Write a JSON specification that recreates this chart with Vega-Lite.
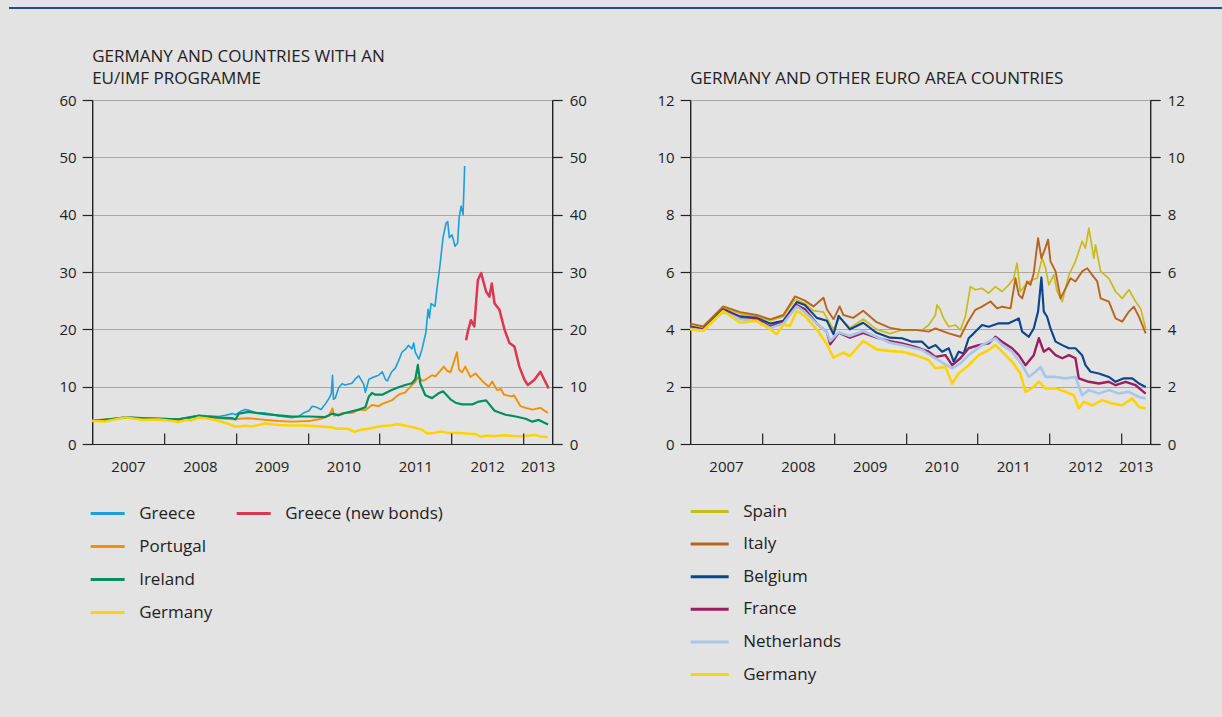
{
"$schema": "https://vega.github.io/schema/vega-lite/v6.json",
"background": "#e3e3e3",
"padding": {"left": 9, "top": 7, "right": 0, "bottom": 60},
"config": {
  "font": "Open Sans",
  "view": {"stroke": "#222222", "strokeWidth": 1},
  "axis": {"labelFont": "Open Sans", "labelFontSize": 15, "labelColor": "#222222", "domainColor": "#222222", "tickColor": "#222222", "gridColor": "#a8a8a8", "gridWidth": 1, "domainWidth": 1.2, "tickWidth": 1.2},
  "legend": {"symbolType": "stroke", "symbolSize": 1156, "symbolStrokeWidth": 3, "labelFontSize": 17, "labelFont": "Open Sans", "labelColor": "#222222", "labelOffset": 13, "rowPadding": 6, "padding": 0, "labelLimit": 400},
  "title": {"font": "Open Sans", "fontSize": 17, "fontWeight": "normal", "color": "#222222", "anchor": "start", "frame": "group", "lineHeight": 22, "offset": 5}
},
"datasets": {
"left": [
{"d":"2007-01-01","s":"Greece","v":4.2},{"d":"2007-03-08","s":"Greece","v":4.15},{"d":"2007-06-18","s":"Greece","v":4.75},{"d":"2007-09-12","s":"Greece","v":4.55},{"d":"2007-12-05","s":"Greece","v":4.5},{"d":"2008-02-12","s":"Greece","v":4.4},{"d":"2008-03-16","s":"Greece","v":4.35},{"d":"2008-06-26","s":"Greece","v":5.0},{"d":"2008-08-06","s":"Greece","v":4.9},{"d":"2008-10-06","s":"Greece","v":4.8},{"d":"2008-11-09","s":"Greece","v":5.0},{"d":"2008-12-13","s":"Greece","v":5.3},{"d":"2008-12-30","s":"Greece","v":5.1},{"d":"2009-01-25","s":"Greece","v":5.7},{"d":"2009-02-18","s":"Greece","v":6.0},{"d":"2009-03-07","s":"Greece","v":5.9},{"d":"2009-04-09","s":"Greece","v":5.5},{"d":"2009-05-30","s":"Greece","v":5.4},{"d":"2009-08-06","s":"Greece","v":4.9},{"d":"2009-10-13","s":"Greece","v":4.6},{"d":"2009-11-16","s":"Greece","v":4.8},{"d":"2009-12-10","s":"Greece","v":5.4},{"d":"2010-01-07","s":"Greece","v":5.8},{"d":"2010-01-24","s":"Greece","v":6.6},{"d":"2010-02-15","s":"Greece","v":6.4},{"d":"2010-03-10","s":"Greece","v":6.0},{"d":"2010-04-01","s":"Greece","v":7.0},{"d":"2010-04-20","s":"Greece","v":8.0},{"d":"2010-05-01","s":"Greece","v":8.8},{"d":"2010-05-07","s":"Greece","v":12.0},{"d":"2010-05-12","s":"Greece","v":7.8},{"d":"2010-05-21","s":"Greece","v":8.0},{"d":"2010-06-07","s":"Greece","v":9.8},{"d":"2010-06-25","s":"Greece","v":10.5},{"d":"2010-07-10","s":"Greece","v":10.3},{"d":"2010-08-14","s":"Greece","v":10.6},{"d":"2010-09-01","s":"Greece","v":11.4},{"d":"2010-09-18","s":"Greece","v":11.9},{"d":"2010-10-13","s":"Greece","v":10.4},{"d":"2010-10-21","s":"Greece","v":9.0},{"d":"2010-11-08","s":"Greece","v":11.3},{"d":"2010-12-03","s":"Greece","v":11.7},{"d":"2010-12-28","s":"Greece","v":12.0},{"d":"2011-01-15","s":"Greece","v":12.6},{"d":"2011-02-01","s":"Greece","v":11.2},{"d":"2011-02-10","s":"Greece","v":11.0},{"d":"2011-03-04","s":"Greece","v":12.6},{"d":"2011-03-22","s":"Greece","v":13.2},{"d":"2011-04-08","s":"Greece","v":14.5},{"d":"2011-04-25","s":"Greece","v":16.0},{"d":"2011-05-12","s":"Greece","v":16.5},{"d":"2011-05-28","s":"Greece","v":17.2},{"d":"2011-06-15","s":"Greece","v":16.6},{"d":"2011-06-24","s":"Greece","v":17.6},{"d":"2011-07-02","s":"Greece","v":16.0},{"d":"2011-07-20","s":"Greece","v":14.8},{"d":"2011-08-05","s":"Greece","v":16.5},{"d":"2011-08-25","s":"Greece","v":19.5},{"d":"2011-09-05","s":"Greece","v":23.5},{"d":"2011-09-12","s":"Greece","v":22.0},{"d":"2011-09-20","s":"Greece","v":24.5},{"d":"2011-10-10","s":"Greece","v":24.0},{"d":"2011-10-20","s":"Greece","v":27.0},{"d":"2011-11-04","s":"Greece","v":31.0},{"d":"2011-11-20","s":"Greece","v":36.0},{"d":"2011-12-05","s":"Greece","v":38.5},{"d":"2011-12-14","s":"Greece","v":38.8},{"d":"2011-12-22","s":"Greece","v":36.0},{"d":"2012-01-05","s":"Greece","v":36.5},{"d":"2012-01-20","s":"Greece","v":34.5},{"d":"2012-02-02","s":"Greece","v":35.0},{"d":"2012-02-10","s":"Greece","v":39.5},{"d":"2012-02-20","s":"Greece","v":41.5},{"d":"2012-03-01","s":"Greece","v":40.0},{"d":"2012-03-09","s":"Greece","v":48.5},
{"d":"2007-01-01","s":"Portugal","v":4.1},{"d":"2007-06-18","s":"Portugal","v":4.6},{"d":"2007-12-05","s":"Portugal","v":4.4},{"d":"2008-03-16","s":"Portugal","v":4.2},{"d":"2008-06-26","s":"Portugal","v":4.9},{"d":"2008-10-06","s":"Portugal","v":4.5},{"d":"2008-12-13","s":"Portugal","v":4.3},{"d":"2009-01-16","s":"Portugal","v":4.4},{"d":"2009-03-07","s":"Portugal","v":4.5},{"d":"2009-05-30","s":"Portugal","v":4.2},{"d":"2009-08-06","s":"Portugal","v":4.0},{"d":"2009-10-13","s":"Portugal","v":3.9},{"d":"2010-01-07","s":"Portugal","v":4.0},{"d":"2010-03-10","s":"Portugal","v":4.4},{"d":"2010-04-20","s":"Portugal","v":5.0},{"d":"2010-05-07","s":"Portugal","v":6.2},{"d":"2010-05-15","s":"Portugal","v":4.9},{"d":"2010-06-25","s":"Portugal","v":5.4},{"d":"2010-08-14","s":"Portugal","v":5.4},{"d":"2010-09-18","s":"Portugal","v":6.0},{"d":"2010-10-21","s":"Portugal","v":5.9},{"d":"2010-11-24","s":"Portugal","v":6.8},{"d":"2010-12-28","s":"Portugal","v":6.6},{"d":"2011-01-15","s":"Portugal","v":7.0},{"d":"2011-03-04","s":"Portugal","v":7.6},{"d":"2011-04-08","s":"Portugal","v":8.6},{"d":"2011-05-12","s":"Portugal","v":9.0},{"d":"2011-06-15","s":"Portugal","v":10.3},{"d":"2011-07-02","s":"Portugal","v":10.8},{"d":"2011-07-19","s":"Portugal","v":11.8},{"d":"2011-08-05","s":"Portugal","v":11.0},{"d":"2011-08-22","s":"Portugal","v":11.2},{"d":"2011-09-25","s":"Portugal","v":12.0},{"d":"2011-10-12","s":"Portugal","v":11.8},{"d":"2011-11-07","s":"Portugal","v":12.8},{"d":"2011-11-24","s":"Portugal","v":13.5},{"d":"2011-12-10","s":"Portugal","v":12.8},{"d":"2011-12-28","s":"Portugal","v":12.5},{"d":"2012-01-30","s":"Portugal","v":16.0},{"d":"2012-02-09","s":"Portugal","v":13.0},{"d":"2012-02-25","s":"Portugal","v":12.5},{"d":"2012-03-12","s":"Portugal","v":13.5},{"d":"2012-04-07","s":"Portugal","v":11.7},{"d":"2012-05-03","s":"Portugal","v":12.3},{"d":"2012-06-06","s":"Portugal","v":11.0},{"d":"2012-07-10","s":"Portugal","v":10.0},{"d":"2012-07-27","s":"Portugal","v":10.9},{"d":"2012-08-21","s":"Portugal","v":9.4},{"d":"2012-09-10","s":"Portugal","v":9.6},{"d":"2012-09-25","s":"Portugal","v":8.6},{"d":"2012-11-01","s":"Portugal","v":8.3},{"d":"2012-11-15","s":"Portugal","v":8.5},{"d":"2012-12-18","s":"Portugal","v":6.6},{"d":"2013-01-13","s":"Portugal","v":6.3},{"d":"2013-02-16","s":"Portugal","v":6.0},{"d":"2013-03-29","s":"Portugal","v":6.3},{"d":"2013-05-07","s":"Portugal","v":5.4},
{"d":"2007-01-01","s":"Ireland","v":4.0},{"d":"2007-06-18","s":"Ireland","v":4.6},{"d":"2007-12-05","s":"Ireland","v":4.4},{"d":"2008-03-16","s":"Ireland","v":4.3},{"d":"2008-06-26","s":"Ireland","v":4.9},{"d":"2008-10-06","s":"Ireland","v":4.6},{"d":"2008-12-13","s":"Ireland","v":4.5},{"d":"2008-12-30","s":"Ireland","v":4.3},{"d":"2009-01-16","s":"Ireland","v":5.3},{"d":"2009-03-07","s":"Ireland","v":5.6},{"d":"2009-05-30","s":"Ireland","v":5.2},{"d":"2009-08-06","s":"Ireland","v":5.0},{"d":"2009-10-13","s":"Ireland","v":4.8},{"d":"2010-01-07","s":"Ireland","v":4.8},{"d":"2010-04-01","s":"Ireland","v":4.7},{"d":"2010-05-07","s":"Ireland","v":5.3},{"d":"2010-06-07","s":"Ireland","v":5.0},{"d":"2010-07-10","s":"Ireland","v":5.4},{"d":"2010-09-18","s":"Ireland","v":6.0},{"d":"2010-10-21","s":"Ireland","v":6.4},{"d":"2010-11-08","s":"Ireland","v":8.3},{"d":"2010-11-24","s":"Ireland","v":8.9},{"d":"2010-12-11","s":"Ireland","v":8.6},{"d":"2011-01-15","s":"Ireland","v":8.6},{"d":"2011-02-01","s":"Ireland","v":8.9},{"d":"2011-03-04","s":"Ireland","v":9.4},{"d":"2011-04-08","s":"Ireland","v":9.9},{"d":"2011-05-12","s":"Ireland","v":10.3},{"d":"2011-06-15","s":"Ireland","v":10.6},{"d":"2011-07-02","s":"Ireland","v":11.3},{"d":"2011-07-15","s":"Ireland","v":13.8},{"d":"2011-07-27","s":"Ireland","v":10.6},{"d":"2011-08-22","s":"Ireland","v":8.5},{"d":"2011-09-25","s":"Ireland","v":8.0},{"d":"2011-11-01","s":"Ireland","v":8.9},{"d":"2011-11-20","s":"Ireland","v":9.2},{"d":"2011-12-28","s":"Ireland","v":7.8},{"d":"2012-01-22","s":"Ireland","v":7.2},{"d":"2012-02-25","s":"Ireland","v":6.9},{"d":"2012-04-16","s":"Ireland","v":6.9},{"d":"2012-05-20","s":"Ireland","v":7.4},{"d":"2012-06-26","s":"Ireland","v":7.6},{"d":"2012-08-08","s":"Ireland","v":5.8},{"d":"2012-10-03","s":"Ireland","v":5.1},{"d":"2012-11-24","s":"Ireland","v":4.8},{"d":"2013-01-13","s":"Ireland","v":4.4},{"d":"2013-02-16","s":"Ireland","v":3.9},{"d":"2013-03-21","s":"Ireland","v":4.2},{"d":"2013-05-07","s":"Ireland","v":3.4},
{"d":"2007-01-01","s":"Germany","v":4.0},{"d":"2007-03-08","s":"Germany","v":3.94},{"d":"2007-06-18","s":"Germany","v":4.64},{"d":"2007-09-12","s":"Germany","v":4.23},{"d":"2007-12-05","s":"Germany","v":4.29},{"d":"2008-02-12","s":"Germany","v":4.0},{"d":"2008-03-16","s":"Germany","v":3.83},{"d":"2008-04-19","s":"Germany","v":4.17},{"d":"2008-05-22","s":"Germany","v":4.12},{"d":"2008-06-26","s":"Germany","v":4.64},{"d":"2008-08-06","s":"Germany","v":4.47},{"d":"2008-10-06","s":"Germany","v":4.0},{"d":"2008-11-26","s":"Germany","v":3.48},{"d":"2008-12-30","s":"Germany","v":3.01},{"d":"2009-02-18","s":"Germany","v":3.19},{"d":"2009-03-23","s":"Germany","v":3.07},{"d":"2009-05-30","s":"Germany","v":3.59},{"d":"2009-08-06","s":"Germany","v":3.3},{"d":"2009-10-13","s":"Germany","v":3.24},{"d":"2009-12-13","s":"Germany","v":3.22},{"d":"2010-02-19","s":"Germany","v":3.1},{"d":"2010-04-28","s":"Germany","v":2.93},{"d":"2010-06-01","s":"Germany","v":2.64},{"d":"2010-07-22","s":"Germany","v":2.69},{"d":"2010-08-25","s":"Germany","v":2.11},{"d":"2010-09-27","s":"Germany","v":2.46},{"d":"2010-11-17","s":"Germany","v":2.75},{"d":"2011-01-07","s":"Germany","v":3.1},{"d":"2011-02-27","s":"Germany","v":3.28},{"d":"2011-04-02","s":"Germany","v":3.45},{"d":"2011-05-06","s":"Germany","v":3.22},{"d":"2011-06-26","s":"Germany","v":2.87},{"d":"2011-08-07","s":"Germany","v":2.46},{"d":"2011-09-02","s":"Germany","v":1.82},{"d":"2011-10-06","s":"Germany","v":1.94},{"d":"2011-11-09","s":"Germany","v":2.17},{"d":"2011-12-13","s":"Germany","v":1.94},{"d":"2012-02-02","s":"Germany","v":1.94},{"d":"2012-03-24","s":"Germany","v":1.82},{"d":"2012-05-05","s":"Germany","v":1.7},{"d":"2012-05-30","s":"Germany","v":1.24},{"d":"2012-06-25","s":"Germany","v":1.47},{"d":"2012-08-06","s":"Germany","v":1.35},{"d":"2012-09-26","s":"Germany","v":1.53},{"d":"2012-11-16","s":"Germany","v":1.41},{"d":"2013-01-06","s":"Germany","v":1.35},{"d":"2013-02-26","s":"Germany","v":1.59},{"d":"2013-04-01","s":"Germany","v":1.29},{"d":"2013-05-05","s":"Germany","v":1.24},
{"d":"2012-03-16","s":"Greece (new bonds)","v":18.1},{"d":"2012-03-25","s":"Greece (new bonds)","v":19.6},{"d":"2012-04-10","s":"Greece (new bonds)","v":21.6},{"d":"2012-04-27","s":"Greece (new bonds)","v":20.5},{"d":"2012-05-15","s":"Greece (new bonds)","v":28.6},{"d":"2012-06-01","s":"Greece (new bonds)","v":29.8},{"d":"2012-06-26","s":"Greece (new bonds)","v":26.6},{"d":"2012-07-13","s":"Greece (new bonds)","v":25.7},{"d":"2012-07-25","s":"Greece (new bonds)","v":28.0},{"d":"2012-08-08","s":"Greece (new bonds)","v":24.5},{"d":"2012-09-02","s":"Greece (new bonds)","v":23.4},{"d":"2012-09-28","s":"Greece (new bonds)","v":19.9},{"d":"2012-10-23","s":"Greece (new bonds)","v":17.6},{"d":"2012-11-17","s":"Greece (new bonds)","v":17.0},{"d":"2012-12-12","s":"Greece (new bonds)","v":13.5},{"d":"2013-01-07","s":"Greece (new bonds)","v":11.2},{"d":"2013-01-24","s":"Greece (new bonds)","v":10.3},{"d":"2013-02-27","s":"Greece (new bonds)","v":11.2},{"d":"2013-03-29","s":"Greece (new bonds)","v":12.6},{"d":"2013-04-18","s":"Greece (new bonds)","v":11.2},{"d":"2013-05-10","s":"Greece (new bonds)","v":9.7}
],
"right": [
{"d":"2007-01-01","s":"Spain","v":4.1},{"d":"2007-03-08","s":"Spain","v":4.05},{"d":"2007-06-18","s":"Spain","v":4.75},{"d":"2007-09-12","s":"Spain","v":4.55},{"d":"2007-12-05","s":"Spain","v":4.45},{"d":"2008-02-12","s":"Spain","v":4.3},{"d":"2008-04-19","s":"Spain","v":4.45},{"d":"2008-06-17","s":"Spain","v":5.05},{"d":"2008-08-06","s":"Spain","v":4.9},{"d":"2008-09-19","s":"Spain","v":4.65},{"d":"2008-11-09","s":"Spain","v":4.6},{"d":"2008-12-30","s":"Spain","v":4.0},{"d":"2009-01-30","s":"Spain","v":4.4},{"d":"2009-03-23","s":"Spain","v":4.05},{"d":"2009-05-30","s":"Spain","v":4.35},{"d":"2009-08-06","s":"Spain","v":4.0},{"d":"2009-10-13","s":"Spain","v":3.85},{"d":"2009-12-13","s":"Spain","v":3.98},{"d":"2010-03-25","s":"Spain","v":3.98},{"d":"2010-04-28","s":"Spain","v":4.15},{"d":"2010-06-01","s":"Spain","v":4.5},{"d":"2010-06-09","s":"Spain","v":4.85},{"d":"2010-06-26","s":"Spain","v":4.68},{"d":"2010-07-13","s":"Spain","v":4.38},{"d":"2010-08-08","s":"Spain","v":4.09},{"d":"2010-09-11","s":"Spain","v":4.15},{"d":"2010-10-06","s":"Spain","v":3.98},{"d":"2010-10-31","s":"Spain","v":4.44},{"d":"2010-11-26","s":"Spain","v":5.49},{"d":"2010-12-21","s":"Spain","v":5.38},{"d":"2011-01-24","s":"Spain","v":5.43},{"d":"2011-02-27","s":"Spain","v":5.26},{"d":"2011-04-02","s":"Spain","v":5.49},{"d":"2011-05-06","s":"Spain","v":5.32},{"d":"2011-06-09","s":"Spain","v":5.55},{"d":"2011-07-04","s":"Spain","v":5.78},{"d":"2011-07-21","s":"Spain","v":6.31},{"d":"2011-08-07","s":"Spain","v":5.32},{"d":"2011-09-02","s":"Spain","v":5.55},{"d":"2011-10-06","s":"Spain","v":5.73},{"d":"2011-10-31","s":"Spain","v":5.78},{"d":"2011-11-26","s":"Spain","v":6.48},{"d":"2011-12-13","s":"Spain","v":6.13},{"d":"2011-12-30","s":"Spain","v":5.55},{"d":"2012-01-24","s":"Spain","v":5.9},{"d":"2012-02-10","s":"Spain","v":5.32},{"d":"2012-03-07","s":"Spain","v":4.97},{"d":"2012-04-10","s":"Spain","v":5.9},{"d":"2012-05-13","s":"Spain","v":6.37},{"d":"2012-06-16","s":"Spain","v":7.07},{"d":"2012-07-03","s":"Spain","v":6.83},{"d":"2012-07-20","s":"Spain","v":7.53},{"d":"2012-08-15","s":"Spain","v":6.48},{"d":"2012-08-23","s":"Spain","v":6.95},{"d":"2012-09-18","s":"Spain","v":6.02},{"d":"2012-10-30","s":"Spain","v":5.78},{"d":"2012-12-03","s":"Spain","v":5.32},{"d":"2013-01-06","s":"Spain","v":5.08},{"d":"2013-02-09","s":"Spain","v":5.38},{"d":"2013-03-15","s":"Spain","v":4.97},{"d":"2013-04-09","s":"Spain","v":4.73},{"d":"2013-05-05","s":"Spain","v":4.03},
{"d":"2007-01-01","s":"Italy","v":4.2},{"d":"2007-03-08","s":"Italy","v":4.1},{"d":"2007-06-18","s":"Italy","v":4.8},{"d":"2007-09-12","s":"Italy","v":4.6},{"d":"2007-12-05","s":"Italy","v":4.5},{"d":"2008-02-12","s":"Italy","v":4.35},{"d":"2008-04-19","s":"Italy","v":4.5},{"d":"2008-06-17","s":"Italy","v":5.15},{"d":"2008-08-06","s":"Italy","v":5.0},{"d":"2008-09-19","s":"Italy","v":4.8},{"d":"2008-11-09","s":"Italy","v":5.1},{"d":"2008-11-26","s":"Italy","v":4.7},{"d":"2008-12-30","s":"Italy","v":4.35},{"d":"2009-01-30","s":"Italy","v":4.8},{"d":"2009-02-18","s":"Italy","v":4.5},{"d":"2009-04-09","s":"Italy","v":4.4},{"d":"2009-05-30","s":"Italy","v":4.65},{"d":"2009-08-06","s":"Italy","v":4.25},{"d":"2009-10-13","s":"Italy","v":4.05},{"d":"2009-12-13","s":"Italy","v":3.98},{"d":"2010-02-19","s":"Italy","v":3.98},{"d":"2010-04-28","s":"Italy","v":3.92},{"d":"2010-06-01","s":"Italy","v":4.03},{"d":"2010-08-08","s":"Italy","v":3.86},{"d":"2010-10-06","s":"Italy","v":3.74},{"d":"2010-11-09","s":"Italy","v":4.21},{"d":"2010-12-21","s":"Italy","v":4.68},{"d":"2011-01-24","s":"Italy","v":4.79},{"d":"2011-03-08","s":"Italy","v":4.97},{"d":"2011-04-11","s":"Italy","v":4.73},{"d":"2011-05-06","s":"Italy","v":4.79},{"d":"2011-06-18","s":"Italy","v":4.73},{"d":"2011-07-13","s":"Italy","v":5.78},{"d":"2011-07-30","s":"Italy","v":5.2},{"d":"2011-08-16","s":"Italy","v":5.08},{"d":"2011-09-10","s":"Italy","v":5.67},{"d":"2011-09-27","s":"Italy","v":5.55},{"d":"2011-10-14","s":"Italy","v":5.96},{"d":"2011-11-05","s":"Italy","v":7.18},{"d":"2011-11-22","s":"Italy","v":6.48},{"d":"2011-12-09","s":"Italy","v":6.78},{"d":"2011-12-26","s":"Italy","v":7.13},{"d":"2012-01-07","s":"Italy","v":6.37},{"d":"2012-02-02","s":"Italy","v":6.02},{"d":"2012-02-27","s":"Italy","v":5.08},{"d":"2012-03-24","s":"Italy","v":5.43},{"d":"2012-04-18","s":"Italy","v":5.78},{"d":"2012-05-13","s":"Italy","v":5.67},{"d":"2012-06-16","s":"Italy","v":6.02},{"d":"2012-07-12","s":"Italy","v":6.13},{"d":"2012-08-06","s":"Italy","v":5.9},{"d":"2012-09-01","s":"Italy","v":5.67},{"d":"2012-09-18","s":"Italy","v":5.08},{"d":"2012-10-30","s":"Italy","v":4.97},{"d":"2012-12-03","s":"Italy","v":4.38},{"d":"2013-01-06","s":"Italy","v":4.27},{"d":"2013-02-09","s":"Italy","v":4.62},{"d":"2013-03-06","s":"Italy","v":4.79},{"d":"2013-04-01","s":"Italy","v":4.44},{"d":"2013-05-05","s":"Italy","v":3.86},
{"d":"2007-01-01","s":"Belgium","v":4.1},{"d":"2007-03-08","s":"Belgium","v":4.0},{"d":"2007-06-18","s":"Belgium","v":4.7},{"d":"2007-09-12","s":"Belgium","v":4.45},{"d":"2007-12-05","s":"Belgium","v":4.4},{"d":"2008-02-12","s":"Belgium","v":4.2},{"d":"2008-04-19","s":"Belgium","v":4.3},{"d":"2008-06-26","s":"Belgium","v":4.95},{"d":"2008-08-06","s":"Belgium","v":4.85},{"d":"2008-10-06","s":"Belgium","v":4.4},{"d":"2008-11-26","s":"Belgium","v":4.3},{"d":"2008-12-30","s":"Belgium","v":3.83},{"d":"2009-01-25","s":"Belgium","v":4.47},{"d":"2009-03-23","s":"Belgium","v":4.0},{"d":"2009-05-30","s":"Belgium","v":4.23},{"d":"2009-08-06","s":"Belgium","v":3.88},{"d":"2009-10-13","s":"Belgium","v":3.71},{"d":"2009-12-13","s":"Belgium","v":3.69},{"d":"2010-02-02","s":"Belgium","v":3.57},{"d":"2010-03-25","s":"Belgium","v":3.57},{"d":"2010-04-28","s":"Belgium","v":3.34},{"d":"2010-06-01","s":"Belgium","v":3.45},{"d":"2010-07-05","s":"Belgium","v":3.22},{"d":"2010-08-08","s":"Belgium","v":3.34},{"d":"2010-09-02","s":"Belgium","v":2.87},{"d":"2010-09-27","s":"Belgium","v":3.22},{"d":"2010-10-23","s":"Belgium","v":3.16},{"d":"2010-11-17","s":"Belgium","v":3.69},{"d":"2010-12-13","s":"Belgium","v":3.86},{"d":"2011-01-24","s":"Belgium","v":4.15},{"d":"2011-02-27","s":"Belgium","v":4.09},{"d":"2011-04-19","s":"Belgium","v":4.21},{"d":"2011-06-09","s":"Belgium","v":4.21},{"d":"2011-07-30","s":"Belgium","v":4.38},{"d":"2011-08-16","s":"Belgium","v":3.92},{"d":"2011-09-19","s":"Belgium","v":3.74},{"d":"2011-10-14","s":"Belgium","v":4.03},{"d":"2011-11-05","s":"Belgium","v":4.62},{"d":"2011-11-22","s":"Belgium","v":5.81},{"d":"2011-12-04","s":"Belgium","v":4.62},{"d":"2011-12-21","s":"Belgium","v":4.44},{"d":"2012-01-07","s":"Belgium","v":4.03},{"d":"2012-02-02","s":"Belgium","v":3.57},{"d":"2012-03-07","s":"Belgium","v":3.45},{"d":"2012-04-10","s":"Belgium","v":3.34},{"d":"2012-05-13","s":"Belgium","v":3.34},{"d":"2012-06-16","s":"Belgium","v":3.1},{"d":"2012-07-03","s":"Belgium","v":2.75},{"d":"2012-07-29","s":"Belgium","v":2.52},{"d":"2012-09-09","s":"Belgium","v":2.46},{"d":"2012-10-30","s":"Belgium","v":2.34},{"d":"2012-12-03","s":"Belgium","v":2.17},{"d":"2013-01-14","s":"Belgium","v":2.29},{"d":"2013-02-26","s":"Belgium","v":2.29},{"d":"2013-04-01","s":"Belgium","v":2.11},{"d":"2013-05-05","s":"Belgium","v":1.99},
{"d":"2007-01-01","s":"France","v":4.05},{"d":"2007-03-08","s":"France","v":3.98},{"d":"2007-06-18","s":"France","v":4.65},{"d":"2007-09-12","s":"France","v":4.4},{"d":"2007-12-05","s":"France","v":4.35},{"d":"2008-02-12","s":"France","v":4.1},{"d":"2008-04-19","s":"France","v":4.25},{"d":"2008-06-26","s":"France","v":4.85},{"d":"2008-08-06","s":"France","v":4.7},{"d":"2008-10-06","s":"France","v":4.2},{"d":"2008-11-26","s":"France","v":3.9},{"d":"2008-12-13","s":"France","v":3.48},{"d":"2009-01-25","s":"France","v":3.88},{"d":"2009-03-23","s":"France","v":3.71},{"d":"2009-05-30","s":"France","v":3.88},{"d":"2009-08-06","s":"France","v":3.71},{"d":"2009-10-13","s":"France","v":3.59},{"d":"2009-12-13","s":"France","v":3.51},{"d":"2010-02-19","s":"France","v":3.39},{"d":"2010-04-28","s":"France","v":3.22},{"d":"2010-06-01","s":"France","v":3.04},{"d":"2010-07-22","s":"France","v":3.1},{"d":"2010-08-25","s":"France","v":2.75},{"d":"2010-10-06","s":"France","v":2.99},{"d":"2010-11-17","s":"France","v":3.34},{"d":"2011-01-07","s":"France","v":3.45},{"d":"2011-02-27","s":"France","v":3.51},{"d":"2011-04-02","s":"France","v":3.74},{"d":"2011-05-06","s":"France","v":3.57},{"d":"2011-06-26","s":"France","v":3.34},{"d":"2011-07-30","s":"France","v":3.1},{"d":"2011-09-02","s":"France","v":2.75},{"d":"2011-10-14","s":"France","v":3.1},{"d":"2011-11-09","s":"France","v":3.69},{"d":"2011-12-04","s":"France","v":3.22},{"d":"2011-12-30","s":"France","v":3.34},{"d":"2012-02-02","s":"France","v":3.1},{"d":"2012-03-07","s":"France","v":2.99},{"d":"2012-04-10","s":"France","v":3.1},{"d":"2012-05-13","s":"France","v":2.99},{"d":"2012-05-30","s":"France","v":2.29},{"d":"2012-07-20","s":"France","v":2.17},{"d":"2012-09-09","s":"France","v":2.11},{"d":"2012-10-30","s":"France","v":2.17},{"d":"2012-12-03","s":"France","v":2.05},{"d":"2013-01-23","s":"France","v":2.17},{"d":"2013-03-15","s":"France","v":2.05},{"d":"2013-05-05","s":"France","v":1.76},
{"d":"2007-01-01","s":"Netherlands","v":4.02},{"d":"2007-03-08","s":"Netherlands","v":3.96},{"d":"2007-06-18","s":"Netherlands","v":4.62},{"d":"2007-09-12","s":"Netherlands","v":4.35},{"d":"2007-12-05","s":"Netherlands","v":4.3},{"d":"2008-02-12","s":"Netherlands","v":4.05},{"d":"2008-04-19","s":"Netherlands","v":4.2},{"d":"2008-06-26","s":"Netherlands","v":4.8},{"d":"2008-08-06","s":"Netherlands","v":4.6},{"d":"2008-10-06","s":"Netherlands","v":4.2},{"d":"2008-11-26","s":"Netherlands","v":3.9},{"d":"2008-12-13","s":"Netherlands","v":3.59},{"d":"2009-01-25","s":"Netherlands","v":3.9},{"d":"2009-03-23","s":"Netherlands","v":3.77},{"d":"2009-05-30","s":"Netherlands","v":3.94},{"d":"2009-10-13","s":"Netherlands","v":3.53},{"d":"2009-12-13","s":"Netherlands","v":3.45},{"d":"2010-03-25","s":"Netherlands","v":3.28},{"d":"2010-06-01","s":"Netherlands","v":2.99},{"d":"2010-08-25","s":"Netherlands","v":2.64},{"d":"2010-10-06","s":"Netherlands","v":2.81},{"d":"2010-11-17","s":"Netherlands","v":3.1},{"d":"2011-01-24","s":"Netherlands","v":3.45},{"d":"2011-04-02","s":"Netherlands","v":3.69},{"d":"2011-05-06","s":"Netherlands","v":3.45},{"d":"2011-06-26","s":"Netherlands","v":3.22},{"d":"2011-08-16","s":"Netherlands","v":2.75},{"d":"2011-09-19","s":"Netherlands","v":2.34},{"d":"2011-10-23","s":"Netherlands","v":2.52},{"d":"2011-11-17","s":"Netherlands","v":2.69},{"d":"2011-12-13","s":"Netherlands","v":2.34},{"d":"2012-02-02","s":"Netherlands","v":2.34},{"d":"2012-03-24","s":"Netherlands","v":2.29},{"d":"2012-05-13","s":"Netherlands","v":2.34},{"d":"2012-06-16","s":"Netherlands","v":1.7},{"d":"2012-07-20","s":"Netherlands","v":1.88},{"d":"2012-09-09","s":"Netherlands","v":1.76},{"d":"2012-10-30","s":"Netherlands","v":1.88},{"d":"2012-12-20","s":"Netherlands","v":1.76},{"d":"2013-02-09","s":"Netherlands","v":1.82},{"d":"2013-04-01","s":"Netherlands","v":1.64},{"d":"2013-05-05","s":"Netherlands","v":1.59},
{"d":"2007-01-01","s":"Germany","v":4.0},{"d":"2007-03-08","s":"Germany","v":3.94},{"d":"2007-06-18","s":"Germany","v":4.64},{"d":"2007-09-12","s":"Germany","v":4.23},{"d":"2007-12-05","s":"Germany","v":4.29},{"d":"2008-02-12","s":"Germany","v":4.0},{"d":"2008-03-16","s":"Germany","v":3.83},{"d":"2008-04-19","s":"Germany","v":4.17},{"d":"2008-05-22","s":"Germany","v":4.12},{"d":"2008-06-26","s":"Germany","v":4.64},{"d":"2008-08-06","s":"Germany","v":4.47},{"d":"2008-10-06","s":"Germany","v":4.0},{"d":"2008-11-26","s":"Germany","v":3.48},{"d":"2008-12-30","s":"Germany","v":3.01},{"d":"2009-02-18","s":"Germany","v":3.19},{"d":"2009-03-23","s":"Germany","v":3.07},{"d":"2009-05-30","s":"Germany","v":3.59},{"d":"2009-08-06","s":"Germany","v":3.3},{"d":"2009-10-13","s":"Germany","v":3.24},{"d":"2009-12-13","s":"Germany","v":3.22},{"d":"2010-02-19","s":"Germany","v":3.1},{"d":"2010-04-28","s":"Germany","v":2.93},{"d":"2010-06-01","s":"Germany","v":2.64},{"d":"2010-07-22","s":"Germany","v":2.69},{"d":"2010-08-25","s":"Germany","v":2.11},{"d":"2010-09-27","s":"Germany","v":2.46},{"d":"2010-11-17","s":"Germany","v":2.75},{"d":"2011-01-07","s":"Germany","v":3.1},{"d":"2011-02-27","s":"Germany","v":3.28},{"d":"2011-04-02","s":"Germany","v":3.45},{"d":"2011-05-06","s":"Germany","v":3.22},{"d":"2011-06-26","s":"Germany","v":2.87},{"d":"2011-08-07","s":"Germany","v":2.46},{"d":"2011-09-02","s":"Germany","v":1.82},{"d":"2011-10-06","s":"Germany","v":1.94},{"d":"2011-11-09","s":"Germany","v":2.17},{"d":"2011-12-13","s":"Germany","v":1.94},{"d":"2012-02-02","s":"Germany","v":1.94},{"d":"2012-03-24","s":"Germany","v":1.82},{"d":"2012-05-05","s":"Germany","v":1.7},{"d":"2012-05-30","s":"Germany","v":1.24},{"d":"2012-06-25","s":"Germany","v":1.47},{"d":"2012-08-06","s":"Germany","v":1.35},{"d":"2012-09-26","s":"Germany","v":1.53},{"d":"2012-11-16","s":"Germany","v":1.41},{"d":"2013-01-06","s":"Germany","v":1.35},{"d":"2013-02-26","s":"Germany","v":1.59},{"d":"2013-04-01","s":"Germany","v":1.29},{"d":"2013-05-05","s":"Germany","v":1.24}
]
},
"spacing": 38,
"center": true,
"vconcat": [
  {"width": 1259, "height": 2, "data": {"values": []}, "mark": "point", "view": {"fill": "#1d4f91", "stroke": null}},
  {
  "spacing": 69,
  "resolve": {"scale": {"color": "independent", "strokeWidth": "independent"}},
  "hconcat": [
    {
    "title": {"text": ["GERMANY AND COUNTRIES WITH AN", "EU/IMF PROGRAMME"]},
    "width": 460, "height": 344,
    "data": {"name": "left"},
    "resolve": {"axis": {"x": "independent", "y": "independent"}, "scale": {"color": "independent"}},
    "layer": [
      {
      "transform": [{"filter": "datum.s !== 'Greece (new bonds)'"}],
      "mark": {"type": "line", "strokeJoin": "round"},
      "encoding": {
        "x": {"field": "d", "type": "temporal", "scale": {"type": "utc", "domain": [{"year": 2007, "month": 1, "date": 1, "utc": true}, {"year": 2013, "month": 5, "date": 28, "utc": true}]},
              "axis": {"orient": "bottom", "title": null, "labels": false, "grid": false, "tickSize": -11, "zindex": 1,
                       "values": [{"year": 2008, "month": 1, "date": 1, "utc": true}, {"year": 2009, "month": 1, "date": 1, "utc": true}, {"year": 2010, "month": 1, "date": 1, "utc": true}, {"year": 2011, "month": 1, "date": 1, "utc": true}, {"year": 2012, "month": 1, "date": 1, "utc": true}, {"year": 2013, "month": 1, "date": 1, "utc": true}]}},
        "y": {"field": "v", "type": "quantitative", "scale": {"domain": [0, 60], "nice": false},
              "axis": {"orient": "left", "title": null, "values": [0, 10, 20, 30, 40, 50, 60], "grid": true, "tickSize": 10, "labelPadding": 6}},
        "color": {"field": "s", "type": "nominal",
                  "scale": {"domain": ["Greece", "Portugal", "Ireland", "Germany"], "range": ["#1a9fdb", "#f29100", "#008f5f", "#ffd300"]},
                  "legend": {"title": null, "orient": "none", "legendX": -3, "legendY": 395, "direction": "vertical"}},
        "strokeWidth": {"field": "s", "type": "nominal", "scale": {"domain": ["Greece", "Portugal", "Ireland", "Germany"], "range": [1.6, 2.5, 2.5, 2.5]}, "legend": null}
      }
      },
      {
      "transform": [{"filter": "datum.s === 'Greece (new bonds)'"}],
      "mark": {"type": "line", "strokeWidth": 2.5, "strokeJoin": "round"},
      "encoding": {
        "x": {"field": "d", "type": "temporal",
              "axis": {"orient": "bottom", "title": null, "ticks": false, "tickSize": 0, "domain": false, "grid": false, "labelPadding": 15, "format": "%Y",
                       "values": [{"year": 2007, "month": 7, "date": 2, "utc": true}, {"year": 2008, "month": 7, "date": 2, "utc": true}, {"year": 2009, "month": 7, "date": 2, "utc": true}, {"year": 2010, "month": 7, "date": 2, "utc": true}, {"year": 2011, "month": 7, "date": 2, "utc": true}, {"year": 2012, "month": 7, "date": 2, "utc": true}, {"year": 2013, "month": 3, "date": 15, "utc": true}]}},
        "y": {"field": "v", "type": "quantitative",
              "axis": {"orient": "right", "title": null, "values": [0, 10, 20, 30, 40, 50, 60], "grid": false, "tickSize": 10, "labelPadding": 7}},
        "color": {"field": "s", "type": "nominal",
                  "scale": {"domain": ["Greece (new bonds)"], "range": ["#dc3650"]},
                  "legend": {"title": null, "orient": "none", "legendX": 143, "legendY": 395}}
      }
      }
    ]
    },
    {
    "title": {"text": "GERMANY AND OTHER EURO AREA COUNTRIES"},
    "width": 460, "height": 344,
    "data": {"name": "right"},
    "resolve": {"axis": {"x": "independent", "y": "independent"}},
    "layer": [
      {
      "transform": [{"filter": "datum.s !== 'Germany'"}],
      "mark": {"type": "line", "strokeJoin": "round"},
      "encoding": {
        "x": {"field": "d", "type": "temporal", "scale": {"type": "utc", "domain": [{"year": 2007, "month": 1, "date": 1, "utc": true}, {"year": 2013, "month": 5, "date": 28, "utc": true}]},
              "axis": {"orient": "bottom", "title": null, "labels": false, "grid": false, "tickSize": -11, "zindex": 1,
                       "values": [{"year": 2008, "month": 1, "date": 1, "utc": true}, {"year": 2009, "month": 1, "date": 1, "utc": true}, {"year": 2010, "month": 1, "date": 1, "utc": true}, {"year": 2011, "month": 1, "date": 1, "utc": true}, {"year": 2012, "month": 1, "date": 1, "utc": true}, {"year": 2013, "month": 1, "date": 1, "utc": true}]}},
        "y": {"field": "v", "type": "quantitative", "scale": {"domain": [0, 12], "nice": false},
              "axis": {"orient": "left", "title": null, "values": [0, 2, 4, 6, 8, 10, 12], "grid": true, "tickSize": 10, "labelPadding": 6}},
        "color": {"field": "s", "type": "nominal",
                  "scale": {"domain": ["Spain", "Italy", "Belgium", "France", "Netherlands", "Germany"], "range": ["#c9bb1c", "#b9651c", "#0b468a", "#9a1f5e", "#a7c6ea", "#ffd300"]},
                  "legend": {"title": null, "orient": "none", "legendX": -1, "legendY": 391, "direction": "vertical", "symbolSize": 1444, "labelOffset": 13, "rowPadding": 3.6}},
        "strokeWidth": {"field": "s", "type": "nominal", "scale": {"domain": ["Spain", "Italy", "Belgium", "France", "Netherlands"], "range": [1.7, 2.6, 2.6, 2.6, 2.6]}, "legend": null}
      }
      },
      {
      "transform": [{"filter": "datum.s === 'Germany'"}],
      "mark": {"type": "line", "strokeWidth": 2.6, "strokeJoin": "round"},
      "encoding": {
        "x": {"field": "d", "type": "temporal",
              "axis": {"orient": "bottom", "title": null, "ticks": false, "tickSize": 0, "domain": false, "grid": false, "labelPadding": 15, "format": "%Y",
                       "values": [{"year": 2007, "month": 7, "date": 2, "utc": true}, {"year": 2008, "month": 7, "date": 2, "utc": true}, {"year": 2009, "month": 7, "date": 2, "utc": true}, {"year": 2010, "month": 7, "date": 2, "utc": true}, {"year": 2011, "month": 7, "date": 2, "utc": true}, {"year": 2012, "month": 7, "date": 2, "utc": true}, {"year": 2013, "month": 3, "date": 15, "utc": true}]}},
        "y": {"field": "v", "type": "quantitative",
              "axis": {"orient": "right", "title": null, "values": [0, 2, 4, 6, 8, 10, 12], "grid": false, "tickSize": 10, "labelPadding": 7}},
        "color": {"field": "s", "type": "nominal"}
      }
      }
    ]
    }
  ]
  }
]
}
